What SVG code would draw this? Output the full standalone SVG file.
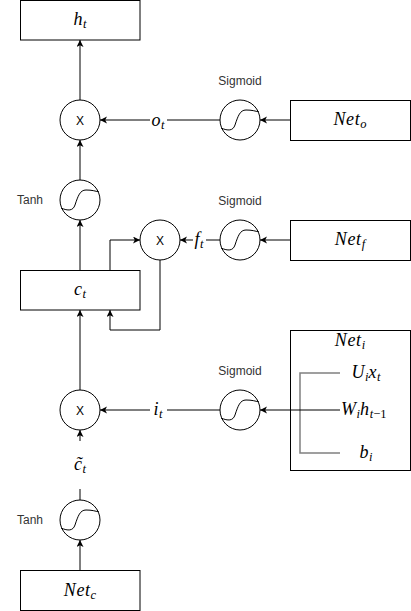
<svg xmlns="http://www.w3.org/2000/svg" width="411" height="611" viewBox="0 0 411 611">
<defs>
<marker id="arr" markerUnits="userSpaceOnUse" markerWidth="8" markerHeight="8" refX="7" refY="3.5" orient="auto">
<path d="M0,0 L7,3.5 L0,7 L1.8,3.5 Z" fill="#000"/>
</marker>
<path id="sig" d="M-19,8 C-12,11 -7,11 -5,5 C-2,-4 0,-10 6,-10 C12,-10 15,-9 19,-8" fill="none" stroke="#000" stroke-width="1"/>
</defs>
<style>
.box{fill:#fff;stroke:#000;stroke-width:1}
.circ{fill:#fff;stroke:#000;stroke-width:1}
.edge{fill:none;stroke:#000;stroke-width:1}
.m{font-family:"Liberation Serif","Times New Roman",serif;font-style:italic;font-size:18px;letter-spacing:0.6px;fill:#000;text-anchor:middle}
.sub{font-size:12.5px;letter-spacing:0}
.up{font-style:normal}
.lbl{font-family:"Liberation Sans",Arial,sans-serif;font-size:12px;fill:#333;text-anchor:middle}
.x{font-family:"Liberation Sans",Arial,sans-serif;font-size:12px;fill:#000;text-anchor:middle}
.br{fill:none;stroke:#808080;stroke-width:1.5}
</style>
<g id="connectors">
<path class="edge" d="M80,100 L80,40" marker-end="url(#arr)"/>
<path class="edge" d="M80,180 L80,140" marker-end="url(#arr)"/>
<path class="edge" d="M220,120 L100,120" marker-end="url(#arr)"/>
<path class="edge" d="M290,120 L260,120" marker-end="url(#arr)"/>
<path class="edge" d="M80,270 L80,220" marker-end="url(#arr)"/>
<path class="edge" d="M110,270 L110,240 L140,240" marker-end="url(#arr)"/>
<path class="edge" d="M160,260 L160,330 L110,330 L110,310" marker-end="url(#arr)"/>
<path class="edge" d="M220,240 L180,240" marker-end="url(#arr)"/>
<path class="edge" d="M290,240 L260,240" marker-end="url(#arr)"/>
<path class="edge" d="M80,390 L80,310" marker-end="url(#arr)"/>
<path class="edge" d="M220,410 L100,410" marker-end="url(#arr)"/>
<path class="edge" d="M80,500 L80,430" marker-end="url(#arr)"/>
<path class="edge" d="M80,570 L80,540" marker-end="url(#arr)"/>
<rect x="150" y="112" width="17" height="16" fill="#fff"/>
<text class="m" x="158" y="126">o<tspan class="sub" dy="3">t</tspan></text>
<rect x="193" y="231" width="13" height="18" fill="#fff"/>
<text class="m" x="199" y="245">f<tspan class="sub" dy="3">t</tspan></text>
<rect x="150" y="402" width="17" height="16" fill="#fff"/>
<text class="m" x="158" y="415">i<tspan class="sub" dy="3">t</tspan></text>
<rect x="70" y="441" width="20" height="48" fill="#fff"/>
<text class="m" x="80" y="470">c̃<tspan class="sub" dy="3">t</tspan></text>
</g>
<g id="h_t">
<rect class="box" x="20.5" y="0.5" width="119.5" height="39.5"/>
<text class="m" x="80" y="25">h<tspan class="sub" dy="3">t</tspan></text>
</g>
<g id="mul_o">
<circle class="circ" cx="80" cy="120" r="20"/>
<text class="x" x="80" y="124.5">X</text>
</g>
<g id="sig_o">
<text class="lbl" x="240" y="85">Sigmoid</text>
<circle class="circ" cx="240" cy="120" r="20"/>
<use href="#sig" x="240" y="120"/>
</g>
<g id="Net_o">
<rect class="box" x="290.5" y="100.5" width="120" height="40"/>
<text class="m" x="350" y="125">Net<tspan class="sub" dy="3">o</tspan></text>
</g>
<g id="tanh_c">
<text class="lbl" x="30" y="204">Tanh</text>
<circle class="circ" cx="80" cy="200" r="20"/>
<use href="#sig" x="80" y="200"/>
</g>
<g id="mul_f">
<circle class="circ" cx="160" cy="240" r="20"/>
<text class="x" x="160" y="244.5">X</text>
</g>
<g id="sig_f">
<text class="lbl" x="240" y="205">Sigmoid</text>
<circle class="circ" cx="240" cy="240" r="20"/>
<use href="#sig" x="240" y="240"/>
</g>
<g id="Net_f">
<rect class="box" x="290.5" y="220.5" width="120" height="40"/>
<text class="m" x="350" y="245">Net<tspan class="sub" dy="3">f</tspan></text>
</g>
<g id="c_t">
<rect class="box" x="20.5" y="270.5" width="119.5" height="39.5"/>
<text class="m" x="80" y="295">c<tspan class="sub" dy="3">t</tspan></text>
</g>
<g id="Net_i">
<rect class="box" x="290.5" y="330.5" width="120" height="140"/>
<text class="m" x="350" y="346">Net<tspan class="sub" dy="3">i</tspan></text>
<path class="br" d="M340,373 L300,373 L300,453 L340,453"/>
<path class="edge" d="M340,410 L260,410" marker-end="url(#arr)"/>
<text class="m" x="366" y="378">U<tspan class="sub" dy="3">i</tspan><tspan dy="-3">x</tspan><tspan class="sub" dy="3">t</tspan></text>
<text class="m" x="341" y="415" style="text-anchor:start">W<tspan class="sub" dy="3">i</tspan><tspan dy="-3">h</tspan><tspan class="sub" dy="3">t<tspan class="up">−1</tspan></tspan></text>
<text class="m" x="366" y="458">b<tspan class="sub" dy="3">i</tspan></text>
</g>
<g id="mul_i">
<circle class="circ" cx="80" cy="410" r="20"/>
<text class="x" x="80" y="414.5">X</text>
</g>
<g id="sig_i">
<text class="lbl" x="240" y="375">Sigmoid</text>
<circle class="circ" cx="240" cy="410" r="20"/>
<use href="#sig" x="240" y="410"/>
</g>
<g id="tanh_in">
<text class="lbl" x="30" y="524">Tanh</text>
<circle class="circ" cx="80" cy="520" r="20"/>
<use href="#sig" x="80" y="520"/>
</g>
<g id="Net_c">
<rect class="box" x="20.5" y="570.5" width="119.5" height="40"/>
<text class="m" x="80" y="596">Net<tspan class="sub" dy="3">c</tspan></text>
</g>
</svg>
